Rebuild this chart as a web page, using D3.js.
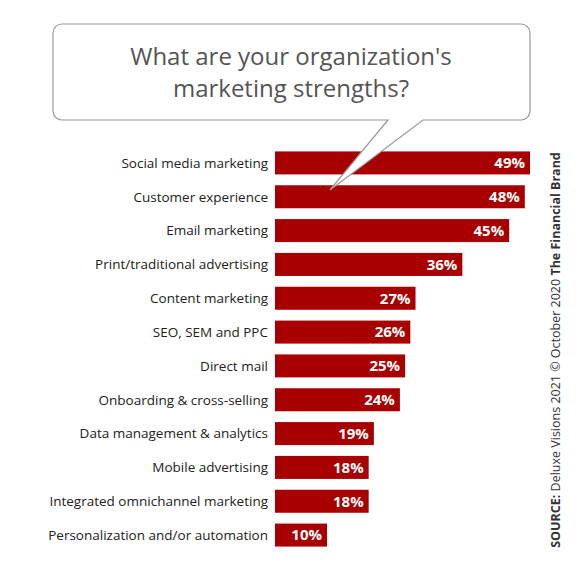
<!DOCTYPE html>
<html><head><meta charset="utf-8">
<script src="https://cdn.jsdelivr.net/npm/d3@7"></script>
<style>body{margin:0;background:#fff}</style>
</head><body>
<svg width="585" height="575"></svg>
<script>
var categories = ["Social media marketing","Customer experience","Email marketing","Print/traditional advertising","Content marketing","SEO, SEM and PPC","Direct mail","Onboarding & cross-selling","Data management & analytics","Mobile advertising","Integrated omnichannel marketing","Personalization and/or automation"];
var values = [49,48,45,36,27,26,25,24,19,18,18,10];
var titleLines = ["What are your organization's","marketing strengths?"];

var svg = d3.select("svg"), font = "'Open Sans', sans-serif";
var x = d3.scaleLinear().domain([0, 49]).range([275, 530]);
var y = d3.scaleBand().domain(categories).range([146, 552]).paddingInner(0.32).paddingOuter(0.16);

svg.selectAll(".bar").data(values).enter().append("rect")
    .attr("x", x(0))
    .attr("y", function(d, i) { return y(categories[i]); })
    .attr("width", function(d) { return x(d) - x(0); })
    .attr("height", y.bandwidth())
    .attr("fill", "#a80000");

svg.selectAll(".val").data(values).enter().append("text")
    .attr("x", function(d) { return x(d) - 5; })
    .attr("y", function(d, i) { return y(categories[i]) + y.bandwidth() / 2; })
    .attr("dy", "0.36em").attr("text-anchor", "end")
    .attr("font-family", font).attr("font-weight", "bold").attr("font-size", 15)
    .attr("fill", "#fff").text(function(d) { return d + "%"; });

svg.selectAll(".lab").data(categories).enter().append("text")
    .attr("x", 268)
    .attr("y", function(d) { return y(d) + y.bandwidth() / 2; })
    .attr("dy", "0.36em").attr("text-anchor", "end")
    .attr("font-family", font).attr("font-size", 13.5)
    .attr("fill", "#222").text(function(d) { return d; });

// speech bubble
var L = 53, T = 24, R = 530, B = 120, r = 9;
var p = d3.path();
p.moveTo(L + r, T); p.lineTo(R - r, T); p.arcTo(R, T, R, T + r, r);
p.lineTo(R, B - r); p.arcTo(R, B, R - r, B, r);
p.lineTo(423, B); p.lineTo(330, 190); p.lineTo(388, B);
p.lineTo(L + r, B); p.arcTo(L, B, L, B - r, r);
p.lineTo(L, T + r); p.arcTo(L, T, L + r, T, r); p.closePath();
svg.append("path").attr("d", p.toString()).attr("fill", "#fff")
    .attr("stroke", "#999").attr("stroke-width", 1.2);

svg.selectAll(".title").data(titleLines).enter().append("text")
    .attr("x", 291).attr("y", function(d, i) { return 65 + i * 32; })
    .attr("text-anchor", "middle").attr("font-family", font)
    .attr("font-size", 24).attr("fill", "#555").text(function(d) { return d; });

var src = svg.append("text").attr("transform", "translate(560,350) rotate(-90)")
    .attr("text-anchor", "middle").attr("font-family", font).attr("font-size", 12.5).attr("fill", "#333");
src.append("tspan").attr("font-weight", "bold").text("SOURCE:");
src.append("tspan").text(" Deluxe Visions 2021 © October 2020 ");
src.append("tspan").attr("font-weight", "bold").text("The Financial Brand");
</script>
</body></html>
